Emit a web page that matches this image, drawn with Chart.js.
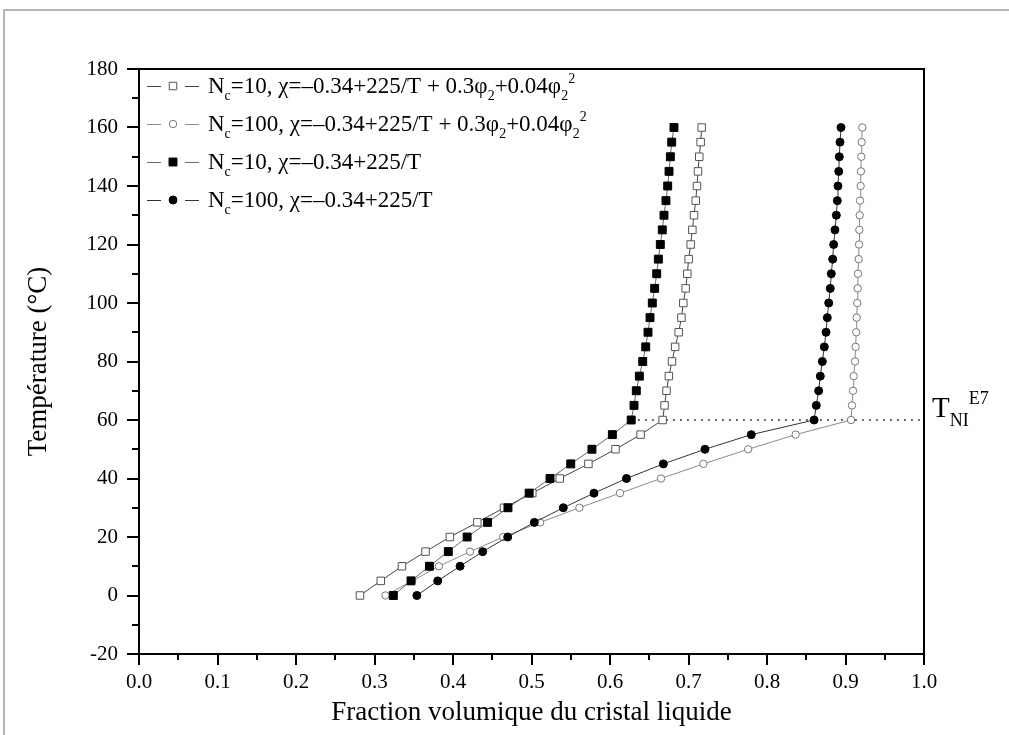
<!DOCTYPE html>
<html><head><meta charset="utf-8">
<script src="https://cdn.jsdelivr.net/npm/chart.js@4/dist/chart.umd.min.js"></script>
<style>
html,body{margin:0;padding:0;background:#fff;}
#wrap{position:relative;width:1009px;height:735px;overflow:hidden;background:#fff;}
#frame{position:absolute;left:3px;top:9px;width:1100px;height:900px;border-left:2px solid #b4b4b4;border-top:2px solid #b4b4b4;}
canvas{position:absolute;left:0;top:0;}
</style></head><body>
<div id="wrap"><div id="frame"></div><canvas id="c" width="1009" height="735"></canvas></div>
<script>
// Temperatures (°C) of every computed point
const temperatures = [0,5,10,15,20,25,30,35,40,45,50,55,60,65,70,75,80,85,90,95,100,105,110,115,120,125,130,135,140,145,150,155,160];
// Nc=10, chi = -0.34+225/T + 0.3phi2 + 0.04phi2^2 (open squares)
const phiNc10Mod = [0.2815,0.308,0.335,0.365,0.396,0.431,0.465,0.501,0.536,0.5725,0.607,0.639,0.667,0.6695,0.672,0.675,0.679,0.683,0.6875,0.691,0.6934,0.6964,0.6985,0.7002,0.7028,0.7049,0.707,0.7092,0.7108,0.7121,0.7137,0.7155,0.7168];
// Nc=100, chi = -0.34+225/T + 0.3phi2 + 0.04phi2^2 (open circles)
const phiNc100Mod = [0.314,0.348,0.382,0.4217,0.464,0.511,0.561,0.6127,0.665,0.719,0.776,0.8365,0.907,0.9083,0.9096,0.9104,0.9121,0.9129,0.9137,0.9142,0.915,0.9155,0.9159,0.9168,0.9172,0.9176,0.9181,0.9185,0.9193,0.9197,0.9201,0.9206,0.9214];
// Nc=10, chi = -0.34+225/T (filled squares)
const phiNc10 = [0.324,0.3465,0.370,0.394,0.418,0.444,0.470,0.497,0.5236,0.550,0.577,0.603,0.627,0.6306,0.6335,0.6374,0.6417,0.6455,0.6484,0.651,0.6539,0.6569,0.6595,0.6616,0.6641,0.6666,0.6688,0.6713,0.6735,0.6752,0.6769,0.6786,0.6815];
// Nc=100, chi = -0.34+225/T (filled circles)
const phiNc100 = [0.354,0.3805,0.409,0.4378,0.4697,0.5036,0.5405,0.5796,0.621,0.668,0.721,0.780,0.860,0.8628,0.8658,0.8679,0.8705,0.873,0.8752,0.8768,0.8786,0.8806,0.8819,0.8837,0.8849,0.8866,0.8883,0.8896,0.8904,0.8914,0.8921,0.893,0.8943];
// T_NI (E7) dotted reference line
const tniLineX = [0.627, 1.0];
const tniLineY = [60, 60];
// Axis ticks
const xTicks = [0,0.1,0.2,0.3,0.4,0.5,0.6,0.7,0.8,0.9,1.0];
const xMinorTicks = [0.05,0.15,0.25,0.35,0.45,0.55,0.65,0.75,0.85,0.95];
const yTicks = [-20,0,20,40,60,80,100,120,140,160,180];
const yMinorTicks = [-10,10,30,50,70,90,110,130,150,170];
// Texts
const xTitle = 'Fraction volumique du cristal liquide';
const yTitle = 'Température (°C)';
const tniLabel = [{t:'T'},{t:'NI',sub:true},{t:'E7',sup:true}];
const legendLabels = [
  [{t:'N'},{t:'c',sub:true},{t:'=10, χ=–0.34+225/T + 0.3φ'},{t:'2',sub:true},{t:'+0.04φ'},{t:'2',sub:true},{t:'2',sup:true}],
  [{t:'N'},{t:'c',sub:true},{t:'=100, χ=–0.34+225/T + 0.3φ'},{t:'2',sub:true},{t:'+0.04φ'},{t:'2',sub:true},{t:'2',sup:true}],
  [{t:'N'},{t:'c',sub:true},{t:'=10, χ=–0.34+225/T'}],
  [{t:'N'},{t:'c',sub:true},{t:'=100, χ=–0.34+225/T'}]
];
const seriesNames = ['Nc=10, χ=-0.34+225/T + 0.3φ2+0.04φ2²','Nc=100, χ=-0.34+225/T + 0.3φ2+0.04φ2²','Nc=10, χ=-0.34+225/T','Nc=100, χ=-0.34+225/T'];

const FONT = "'Liberation Serif','Times New Roman',serif";
const pts = (xs, ys) => xs.map((x, i) => ({x, y: ys[i]}));

const styles = [
  {pointStyle:'rect', pointRadius:5.3, pointBackgroundColor:'#fff', pointBorderColor:'#555', borderColor:'#444'},
  {pointStyle:'circle', pointRadius:3.7, pointBackgroundColor:'#fff', pointBorderColor:'#777', borderColor:'#8a8a8a'},
  {pointStyle:'rect', pointRadius:5.6, pointBackgroundColor:'#000', pointBorderColor:'#000', borderColor:'#666'},
  {pointStyle:'circle', pointRadius:4, pointBackgroundColor:'#000', pointBorderColor:'#000', borderColor:'#333'}
];
const seriesData = [phiNc10Mod, phiNc100Mod, phiNc10, phiNc100];

function mkDs(i, order) {
  const s = styles[i];
  return Object.assign({
    label: seriesNames[i], data: pts(seriesData[i], temperatures), showLine: true,
    borderWidth: 1, pointBorderWidth: 1, pointHoverRadius: s.pointRadius, order
  }, s);
}

function drawRuns(ctx, runs, x, y, size) {
  for (const r of runs) {
    const fs = (r.sub || r.sup) ? Math.round(size * 0.62) : size;
    const dy = r.sub ? size * 0.32 : (r.sup ? -size * 0.45 : 0);
    ctx.font = fs + 'px ' + FONT;
    ctx.fillText(r.t, x, y + dy);
    x += ctx.measureText(r.t).width;
  }
  return x;
}

function marker(ctx, s, x, y) {
  ctx.beginPath();
  if (s.pointStyle === 'rect') {
    const h = s.pointRadius * Math.SQRT1_2;
    ctx.rect(x - h, y - h, 2 * h, 2 * h);
  } else {
    ctx.arc(x, y, s.pointRadius, 0, Math.PI * 2);
  }
  ctx.fillStyle = s.pointBackgroundColor; ctx.fill();
  ctx.lineWidth = 1; ctx.strokeStyle = s.pointBorderColor; ctx.stroke();
}

const decor = {
  id: 'decor',
  afterDraw(chart) {
    const {ctx, chartArea: a, scales: {x, y}} = chart;
    ctx.save();
    // frame
    ctx.strokeStyle = '#000'; ctx.lineWidth = 2;
    ctx.strokeRect(a.left, a.top, a.right - a.left, a.bottom - a.top);
    // ticks
    ctx.lineWidth = 2;
    ctx.beginPath();
    for (const v of yTicks) { const p = Math.round(y.getPixelForValue(v)); ctx.moveTo(a.left - 12, p); ctx.lineTo(a.left, p); }
    for (const v of yMinorTicks) { const p = Math.round(y.getPixelForValue(v)); ctx.moveTo(a.left - 7, p); ctx.lineTo(a.left, p); }
    for (const v of xTicks) { const p = Math.round(x.getPixelForValue(v)); ctx.moveTo(p, a.bottom); ctx.lineTo(p, a.bottom + 11); }
    for (const v of xMinorTicks) { const p = Math.round(x.getPixelForValue(v)); ctx.moveTo(p, a.bottom); ctx.lineTo(p, a.bottom + 6); }
    ctx.stroke();
    // legend
    const order = [0, 1, 2, 3];
    const rowsY = [86, 124, 162, 200];
    ctx.textBaseline = 'alphabetic'; ctx.textAlign = 'left';
    order.forEach((si, r) => {
      const s = styles[si]; const yy = rowsY[r];
      ctx.strokeStyle = s.borderColor; ctx.lineWidth = 1;
      ctx.beginPath(); ctx.moveTo(147, yy + 0.5); ctx.lineTo(161, yy + 0.5); ctx.moveTo(185, yy + 0.5); ctx.lineTo(199, yy + 0.5); ctx.stroke();
      marker(ctx, s, 173, yy);
      ctx.fillStyle = '#000';
      drawRuns(ctx, legendLabels[si], 208, yy + 7, 23);
    });
    // T_NI label
    ctx.fillStyle = '#000';
    const ty = y.getPixelForValue(tniLineY[0]);
    drawRuns(ctx, tniLabel, a.right + 8, ty - 3, 29);
    ctx.restore();
  }
};

new Chart(document.getElementById('c'), {
  type: 'scatter',
  data: {
    datasets: [
      mkDs(2, 1), mkDs(3, 2), mkDs(0, 3), mkDs(1, 4),
      {label: 'T_NI E7', data: pts(tniLineX, tniLineY), showLine: true, borderColor: '#000', borderWidth: 1.5,
       borderDash: [1.5, 5.5], pointRadius: 0, pointHoverRadius: 0, order: 5}
    ]
  },
  options: {
    responsive: false, animation: false, devicePixelRatio: 1,
    layout: {padding: {top: 69, right: 85, left: 0, bottom: 0}},
    plugins: {legend: {display: false}, tooltip: {enabled: false}},
    scales: {
      x: {
        type: 'linear', min: 0, max: 1,
        afterBuildTicks: s => { s.ticks = xTicks.map(v => ({value: v})); },
        afterFit: s => { s.height = 81; },
        grid: {display: false, drawTicks: false, tickLength: 0},
        border: {display: false},
        ticks: {callback: v => v.toFixed(1), font: {family: FONT, size: 21}, color: '#000', padding: 16, maxRotation: 0, autoSkip: false},
        title: {display: true, text: xTitle, font: {family: FONT, size: 27}, color: '#000', padding: {top: 0, bottom: 6}}
      },
      y: {
        type: 'linear', min: -20, max: 180,
        afterBuildTicks: s => { s.ticks = yTicks.map(v => ({value: v})); },
        afterFit: s => { s.width = 139; },
        grid: {display: false, drawTicks: false, tickLength: 0},
        border: {display: false},
        ticks: {callback: v => String(v), font: {family: FONT, size: 21}, color: '#000', padding: 21, autoSkip: false},
        title: {display: true, text: yTitle, font: {family: FONT, size: 27}, color: '#000', padding: {top: 23, bottom: 0}}
      }
    }
  },
  plugins: [decor]
});
</script>
</body></html>
